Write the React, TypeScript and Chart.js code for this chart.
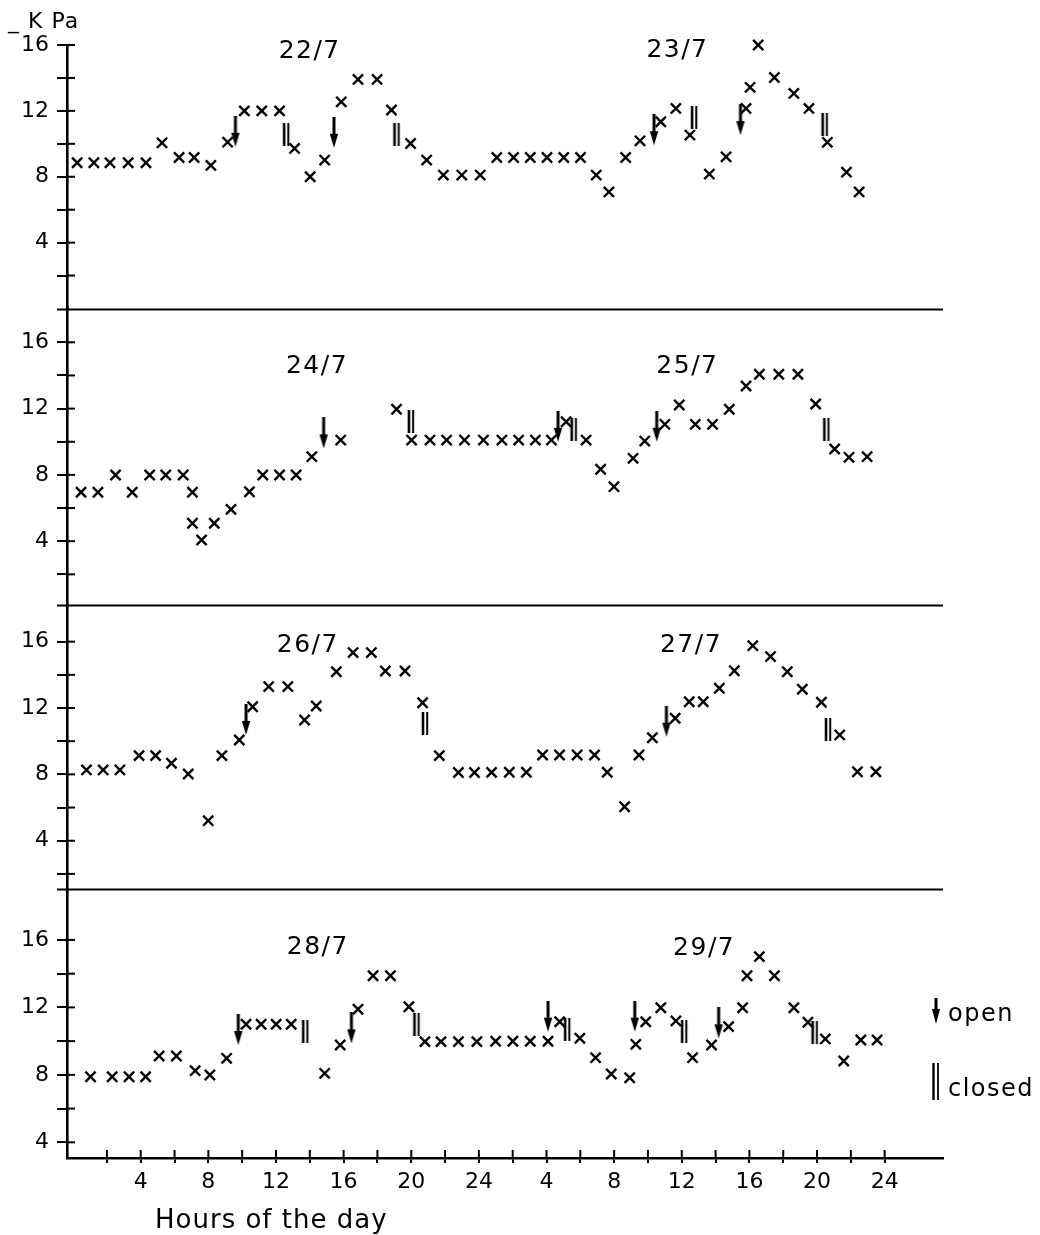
import React, { useEffect, useRef } from 'react';
import { Chart, registerables } from 'chart.js';

Chart.register(...registerables);

// ---- data: continuous hours over two days (0..48) and soil water potential (-kPa)
const HOURS_22_23 = [0.24,1.23,2.18,3.26,4.31,5.26,6.27,7.16,8.15,9.14,10.13,11.16,12.21,13.1,14.02,14.88,15.86,16.85,17.98,18.83,19.96,20.91,21.9,22.99,24.08,25.06,26.05,27.04,28.03,29.02,30.01,30.94,31.69,32.68,33.53,34.76,35.65,36.48,37.63,38.62,39.8,40.04,40.52,41.48,42.63,43.52,44.61,45.74,46.49];
const KPA_22_23 = [8.85,8.85,8.85,8.85,8.85,10.06,9.17,9.17,8.69,10.1,12.0,12.0,12.0,9.72,8.0,9.01,12.55,13.91,13.91,12.05,10.02,9.01,8.1,8.1,8.1,9.17,9.17,9.17,9.17,9.17,9.17,8.1,7.08,9.17,10.18,11.34,12.15,10.53,8.16,9.21,12.15,13.43,16.0,14.03,13.06,12.15,10.09,8.28,7.08];

const HOURS_24_25 = [0.47,1.47,2.51,3.5,4.53,5.48,6.51,7.06,7.06,7.6,8.35,9.34,10.43,11.22,12.21,13.19,14.12,15.83,19.13,20.02,21.11,22.09,23.15,24.27,25.36,26.35,27.34,28.29,29.16,30.34,31.2,31.99,33.12,33.81,35.0,35.85,36.8,37.82,38.81,39.8,40.59,41.74,42.87,43.92,45.04,45.89,46.96];
const KPA_24_25 = [6.95,6.95,7.99,6.95,7.99,7.99,7.99,6.95,5.08,4.07,5.08,5.92,6.98,7.99,7.99,7.99,9.1,10.1,11.96,10.1,10.1,10.1,10.1,10.1,10.1,10.1,10.1,10.1,11.21,10.1,8.34,7.29,9.0,10.04,11.05,12.22,11.05,11.05,11.96,13.36,14.07,14.07,14.07,12.28,9.56,9.06,9.1];

const HOURS_26_27 = [0.79,1.78,2.77,3.9,4.88,5.82,6.81,7.99,8.8,9.83,10.62,11.57,12.7,13.69,14.38,15.57,16.56,17.64,18.47,19.63,20.67,21.66,22.79,23.74,24.75,25.8,26.81,27.77,28.77,29.81,30.84,31.59,32.62,33.47,34.26,35.61,36.44,37.27,38.22,39.11,40.2,41.25,42.24,43.13,44.26,45.34,46.39,47.48];
const KPA_26_27 = [8.27,8.27,8.27,9.13,9.13,8.67,8.02,5.21,9.13,10.07,12.08,13.29,13.29,11.28,12.12,14.19,15.34,15.34,14.23,14.23,12.32,9.13,8.11,8.11,8.12,8.13,8.13,9.17,9.17,9.17,9.17,8.13,6.05,9.17,10.21,11.38,12.38,12.38,13.19,14.25,15.76,15.1,14.19,13.13,12.35,10.38,8.16,8.16];

const HOURS_28_29 = [1.03,2.31,3.31,4.29,5.09,6.11,7.22,8.09,9.08,10.23,11.12,12.01,12.9,14.88,15.8,16.85,17.74,18.77,19.86,20.81,21.76,22.79,23.88,24.99,26.01,27.04,28.09,28.78,29.97,30.9,31.83,32.92,33.28,33.87,34.76,35.65,36.64,37.76,38.77,39.6,39.86,40.59,41.48,42.63,43.46,44.49,45.58,46.59,47.55];
const KPA_28_29 = [7.89,7.89,7.89,7.89,9.12,9.12,8.25,7.99,8.98,11.0,11.0,11.0,11.0,8.09,9.77,11.89,13.88,13.88,12.04,9.97,9.97,9.97,9.97,9.99,9.99,9.99,9.99,11.15,10.17,9.02,8.05,7.83,9.81,11.15,11.98,11.2,9.02,9.77,10.86,11.98,13.88,15.01,13.88,11.98,11.12,10.13,8.82,10.07,10.07];

// stomata "open" events (arrow tip: hour, kPa)
const OPEN_22_23 = [[9.6, 9.82], [15.43, 9.76], [34.36, 9.92], [39.47, 10.53]];
const OPEN_24_25 = [[14.82, 9.6], [28.68, 10.0], [34.52, 10.0]];
const OPEN_26_27 = [[10.23, 10.38], [35.09, 10.27]];
const OPEN_28_29 = [[9.77, 9.77], [16.46, 9.87], [28.09, 10.56], [33.22, 10.56], [38.18, 10.17]];

// stomata "closed" events (mark centre: hour, kPa)
const CLOSED_22_23 = [[12.6, 10.58], [19.13, 10.58], [36.73, 11.62], [44.45, 11.19]];
const CLOSED_24_25 = [[19.98, 11.23], [29.61, 10.71], [44.55, 10.71]];
const CLOSED_26_27 = [[20.81, 11.08], [44.65, 10.71]];
const CLOSED_28_29 = [[13.73, 10.56], [20.31, 10.96], [29.22, 10.66], [36.14, 10.56], [43.86, 10.51]];

// date tags per panel (text, anchor hour, anchor kPa)
const DATE_TEXT = ['22/7', '23/7', '24/7', '25/7', '26/7', '27/7', '28/7', '29/7'];
const DATE_HOUR = [13.95, 35.7, 14.38, 36.29, 13.84, 36.5, 14.43, 37.28];
const DATE_KPA = [15.61, 15.69, 14.56, 14.56, 15.77, 15.75, 15.56, 15.48];

const X_TICKS = [2,4,6,8,10,12,14,16,18,20,22,24,26,28,30,32,34,36,38,40,42,44,46,48];
const Y_TICKS = [2,4,6,8,10,12,14,16];
const Y_LABELLED = [4,8,12,16];

// panel axis ranges (kPa) and relative heights
const PANEL_IDS = ['p1', 'p2', 'p3', 'p4'];
const PANEL_MIN = [0, 0.15, 1.09, 3.07];
const PANEL_MAX = [16, 18.04, 18.21, 19.02];
const PANEL_HEIGHT = [263.5, 296.5, 284, 269];

const FONT = 'DejaVu Sans';

function makeArrow(): HTMLCanvasElement {
  const L = 31;
  const c = document.createElement('canvas');
  c.width = 14;
  c.height = 2 * L;
  const g = c.getContext('2d')!;
  g.fillStyle = '#000';
  g.strokeStyle = '#000';
  g.lineWidth = 3;
  g.beginPath();
  g.moveTo(7, 0);
  g.lineTo(7, L - 10);
  g.stroke();
  g.beginPath();
  g.moveTo(2.8, L - 14);
  g.lineTo(11.2, L - 14);
  g.lineTo(7, L);
  g.closePath();
  g.fill();
  return c;
}

function makeClosed(): HTMLCanvasElement {
  const H = 23;
  const c = document.createElement('canvas');
  c.width = 10;
  c.height = H;
  const g = c.getContext('2d')!;
  g.strokeStyle = '#000';
  g.lineWidth = 2.6;
  g.beginPath();
  g.moveTo(3, 0);
  g.lineTo(3, H);
  g.stroke();
  g.lineWidth = 2;
  g.beginPath();
  g.moveTo(7.2, 0);
  g.lineTo(7.2, H);
  g.stroke();
  return c;
}

const overlay = {
  id: 'overlay',
  afterDraw(chart: any) {
    const ctx = chart.ctx as CanvasRenderingContext2D;
    const area = chart.chartArea;
    const xs = chart.scales.x;
    ctx.save();
    ctx.strokeStyle = '#000';
    ctx.fillStyle = '#000';

    // panel separators
    ctx.lineWidth = 2;
    ['p1', 'p2', 'p3'].forEach((id) => {
      const s = chart.scales[id];
      const y = Math.round(s.bottom) + 0.5;
      ctx.beginPath();
      ctx.moveTo(area.left - 10, y);
      ctx.lineTo(area.right, y);
      ctx.stroke();
    });

    // inner halves of the y tick marks
    PANEL_IDS.forEach((id) => {
      const s = chart.scales[id];
      s.ticks.forEach((t: any) => {
        const y = s.getPixelForValue(t.value);
        ctx.beginPath();
        ctx.moveTo(area.left, y);
        ctx.lineTo(area.left + 8, y);
        ctx.stroke();
      });
    });

    // inner halves of the x tick marks
    xs.ticks.forEach((t: any) => {
      const x = xs.getPixelForValue(t.value);
      ctx.beginPath();
      ctx.moveTo(x, area.bottom);
      ctx.lineTo(x, area.bottom - 8);
      ctx.stroke();
    });

    // date tags
    (ctx as any).letterSpacing = '1.5px';
    ctx.font = `25px "${FONT}"`;
    ctx.textAlign = 'center';
    ctx.textBaseline = 'middle';
    DATE_TEXT.forEach((txt, i) => {
      const s = chart.scales[PANEL_IDS[Math.floor(i / 2)]];
      ctx.fillText(txt, xs.getPixelForValue(DATE_HOUR[i]) + 0.75, s.getPixelForValue(DATE_KPA[i]));
    });

    // unit label
    ctx.textAlign = 'left';
    ctx.textBaseline = 'alphabetic';
    (ctx as any).letterSpacing = '1px';
    ctx.font = `22px "${FONT}"`;
    ctx.fillText('_ K Pa', 8, 28);

    // axis title
    ctx.font = `26px "${FONT}"`;
    ctx.fillText('Hours of the day', 155, 1228);

    // legend
    const ax = 936;
    ctx.lineWidth = 3;
    ctx.beginPath();
    ctx.moveTo(ax, 998);
    ctx.lineTo(ax, 1012);
    ctx.stroke();
    ctx.beginPath();
    ctx.moveTo(ax - 4, 1009);
    ctx.lineTo(ax + 4, 1009);
    ctx.lineTo(ax, 1024);
    ctx.closePath();
    ctx.fill();
    ctx.lineWidth = 2.4;
    ctx.beginPath();
    ctx.moveTo(933.5, 1063);
    ctx.lineTo(933.5, 1100);
    ctx.stroke();
    ctx.lineWidth = 1.8;
    ctx.beginPath();
    ctx.moveTo(938, 1063);
    ctx.lineTo(938, 1100);
    ctx.stroke();
    (ctx as any).letterSpacing = '1.5px';
    ctx.font = `24px "${FONT}"`;
    ctx.fillText('open', 948, 1021);
    ctx.fillText('closed', 948, 1096);
    ctx.restore();
  },
};

export default function App() {
  const ref = useRef<HTMLCanvasElement>(null);

  useEffect(() => {
    const canvas = ref.current;
    if (!canvas) return;
    const arrow = makeArrow();
    const closed = makeClosed();

    const series = [
      { hours: HOURS_22_23, kpa: KPA_22_23, open: OPEN_22_23, closed: CLOSED_22_23 },
      { hours: HOURS_24_25, kpa: KPA_24_25, open: OPEN_24_25, closed: CLOSED_24_25 },
      { hours: HOURS_26_27, kpa: KPA_26_27, open: OPEN_26_27, closed: CLOSED_26_27 },
      { hours: HOURS_28_29, kpa: KPA_28_29, open: OPEN_28_29, closed: CLOSED_28_29 },
    ];

    const datasets: any[] = [];
    series.forEach((s, i) => {
      const axis = PANEL_IDS[i];
      datasets.push({
        label: `${DATE_TEXT[2 * i]}-${DATE_TEXT[2 * i + 1]}`,
        data: s.hours.map((h, k) => ({ x: h, y: s.kpa[k] })),
        yAxisID: axis,
        pointStyle: 'crossRot',
        pointRadius: 7.2,
        pointHoverRadius: 7.2,
        borderColor: '#000',
        backgroundColor: '#000',
        borderWidth: 2.4,
        showLine: false,
        clip: false,
      });
      datasets.push({
        label: 'open',
        data: s.open.map((p) => ({ x: p[0], y: p[1] })),
        yAxisID: axis,
        pointStyle: arrow,
        pointRadius: 6,
        showLine: false,
        clip: false,
      });
      datasets.push({
        label: 'closed',
        data: s.closed.map((p) => ({ x: p[0], y: p[1] })),
        yAxisID: axis,
        pointStyle: closed,
        pointRadius: 6,
        showLine: false,
        clip: false,
      });
    });

    const yScale = (i: number) => ({
      type: 'linear',
      position: 'left',
      stack: 'kpa',
      stackWeight: PANEL_HEIGHT[i],
      weight: 4 - i,
      min: PANEL_MIN[i],
      max: PANEL_MAX[i],
      afterBuildTicks: (sc: any) => {
        sc.ticks = Y_TICKS.filter((v) => v >= PANEL_MIN[i] && v <= PANEL_MAX[i]).map((v) => ({ value: v }));
      },
      afterFit: (sc: any) => {
        sc.width = 67;
      },
      grid: { drawOnChartArea: false, drawTicks: true, tickLength: 10, color: '#000', lineWidth: 2 },
      border: { display: true, color: '#000', width: 2.6 },
      ticks: {
        autoSkip: false,
        padding: 8,
        color: '#000',
        font: { family: FONT, size: 22 },
        callback: (v: any) => (Y_LABELLED.includes(Number(v)) ? String(v) : ''),
      },
    });

    const chart = new Chart(canvas, {
      type: 'scatter',
      data: { datasets },
      options: {
        responsive: false,
        animation: false,
        devicePixelRatio: 1,
        layout: { padding: { top: 45, right: 97, left: 0, bottom: 0 } },
        plugins: { legend: { display: false }, tooltip: { enabled: false } },
        scales: {
          x: {
            type: 'linear',
            position: 'bottom',
            min: -0.36,
            max: 51.45,
            afterBuildTicks: (sc: any) => {
              sc.ticks = X_TICKS.map((v) => ({ value: v }));
            },
            afterFit: (sc: any) => {
              sc.height = 77;
            },
            grid: { drawOnChartArea: false, drawTicks: true, tickLength: 5, color: '#000', lineWidth: 2 },
            border: { display: true, color: '#000', width: 2.6 },
            ticks: {
              autoSkip: false,
              maxRotation: 0,
              padding: 6,
              color: '#000',
              font: { family: FONT, size: 22 },
              callback: (v: any) => (Number(v) % 4 === 0 ? String(((Number(v) - 1) % 24) + 1) : ''),
            },
          },
          p4: yScale(3),
          p3: yScale(2),
          p2: yScale(1),
          p1: yScale(0),
        } as any,
      },
      plugins: [overlay],
    } as any);

    return () => chart.destroy();
  }, []);

  return (
    <div style={{ position: 'absolute', left: 0, top: 0, width: 1040, height: 1235, background: '#fff' }}>
      <canvas ref={ref} width={1040} height={1235} style={{ display: 'block', width: 1040, height: 1235 }} />
    </div>
  );
}
